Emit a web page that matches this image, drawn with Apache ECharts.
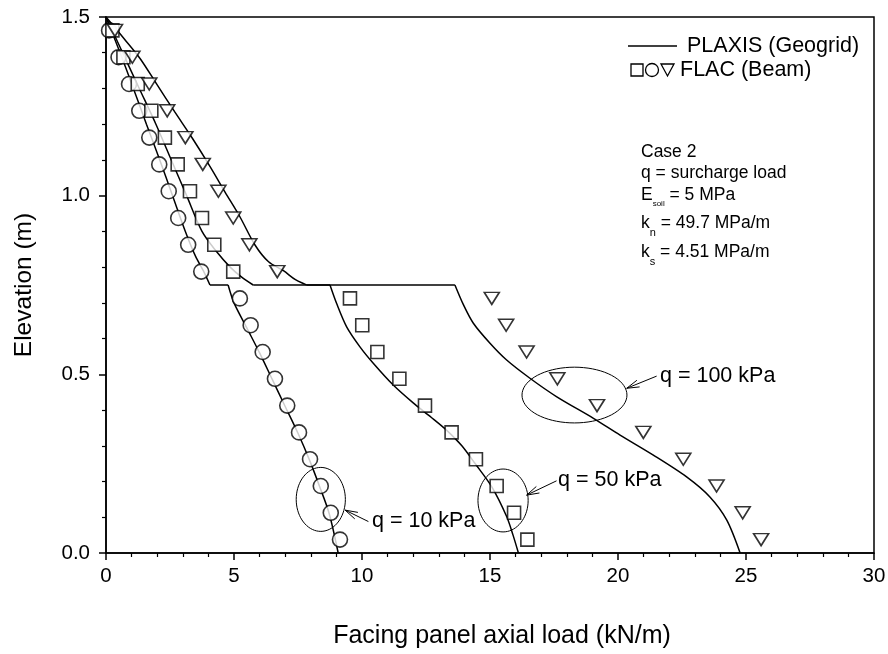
<!DOCTYPE html>
<html><head><meta charset="utf-8">
<script src="https://cdn.jsdelivr.net/npm/echarts@6/dist/echarts.min.js"></script>
<style>html,body{margin:0;padding:0;background:#fff}#c{width:888px;height:654px}</style>
</head><body><div id="c"></div>
<script>
const FONT = '"Liberation Sans", Arial, Helvetica, sans-serif';

// ---- axes ----
const xMin = 0, xMax = 30, xStep = 5;
const yMin = 0, yMax = 1.5, yStep = 0.5;

// ---- FLAC (Beam) markers ----
const flacElev = [1.4625, 1.3875, 1.3125, 1.2375, 1.1625, 1.0875, 1.0125, 0.9375, 0.8625, 0.7875,
                  0.7125, 0.6375, 0.5625, 0.4875, 0.4125, 0.3375, 0.2625, 0.1875, 0.1125, 0.0375];
const flacQ10  = [0.12, 0.49, 0.90, 1.30, 1.69, 2.08, 2.45, 2.82, 3.21, 3.72,
                  5.23, 5.65, 6.12, 6.60, 7.08, 7.54, 7.97, 8.39, 8.78, 9.14];
const flacQ50  = [0.25, 0.68, 1.24, 1.77, 2.30, 2.80, 3.28, 3.75, 4.23, 4.97,
                  9.53, 10.01, 10.60, 11.46, 12.46, 13.50, 14.45, 15.26, 15.94, 16.46];
const flacQ100 = [0.35, 1.03, 1.69, 2.39, 3.10, 3.78, 4.39, 4.97, 5.60, 6.69,
                  15.07, 15.63, 16.43, 17.63, 19.18, 20.99, 22.55, 23.85, 24.87, 25.59];

// ---- PLAXIS (Geogrid) lines: upper part (above the step) and lower part ----
const plaxis10UpperX = [0, 0.55, 1.07, 1.58, 2.1, 2.6, 3.1, 3.5, 3.8, 4.06];
const plaxis10UpperY = [1.5, 1.4, 1.3, 1.2, 1.1, 1.0, 0.9, 0.83, 0.79, 0.75];
const plaxis10LowerX = [4.77, 5.0, 5.5, 6.0, 6.5, 7.0, 7.5, 7.95, 8.35, 8.72, 9.07];
const plaxis10LowerY = [0.75, 0.70, 0.63, 0.56, 0.485, 0.41, 0.335, 0.26, 0.185, 0.11, 0.0];

const plaxis50UpperX = [0, 0.65, 1.3, 1.95, 2.55, 3.15, 3.75, 4.3, 4.85, 5.3, 5.75];
const plaxis50UpperY = [1.5, 1.4, 1.3, 1.2, 1.1, 1.0, 0.9, 0.845, 0.8, 0.772, 0.75];
const plaxis50LowerX = [8.75, 9.01, 9.4, 9.92, 10.44, 11.22, 12.0, 12.7, 13.3, 13.9, 14.41, 15.07, 15.65, 15.9, 16.11];
const plaxis50LowerY = [0.75, 0.698, 0.633, 0.577, 0.531, 0.47, 0.42, 0.38, 0.344, 0.30, 0.251, 0.185, 0.102, 0.05, 0];

const plaxis100UpperX = [0, 0.7, 1.33, 2.0, 2.68, 3.38, 4.06, 4.65, 5.23, 5.82, 6.35, 6.93, 7.4, 7.84];
const plaxis100UpperY = [1.5, 1.44, 1.384, 1.31, 1.235, 1.16, 1.082, 1.01, 0.941, 0.862, 0.815, 0.79, 0.765, 0.75];
const plaxis100LowerX = [13.63, 13.96, 14.35, 15.0, 15.65, 16.56, 17.61, 19.04, 20.08, 21.38, 22.68, 23.59, 24.25, 24.77];
const plaxis100LowerY = [0.75, 0.695, 0.643, 0.587, 0.54, 0.489, 0.437, 0.377, 0.33, 0.274, 0.213, 0.157, 0.092, 0];

// ---- annotations (data units) ----
const annLabels   = ['q = 10 kPa', 'q = 50 kPa', 'q = 100 kPa'];
const ellipseCX   = [8.39, 15.51, 18.30];
const ellipseCY   = [0.150, 0.147, 0.442];
const ellipseRX   = [0.96, 0.98, 2.05];
const ellipseRY   = [0.0895, 0.088, 0.078];
const arrowTipX   = [9.34, 16.43, 20.34];
const arrowTipY   = [0.120, 0.162, 0.461];
const arrowTailX  = [10.25, 17.60, 21.51];
const arrowTailY  = [0.088, 0.202, 0.495];
const labelX      = [10.39, 17.66, 21.64];
const labelY      = [0.089, 0.204, 0.495];

const zip = (a, b) => a.map((v, i) => [v, b[i]]);
const last = a => a[a.length - 1];

const chart = echarts.init(document.getElementById('c'), null, {renderer: 'canvas'});

const markerStyle = {color: '#fff', borderColor: '#000', borderWidth: 1.6};
const lineStyle = {color: '#000', width: 1.5};

function renderAnn(params, api) {
  const i = api.value(2);
  const c = api.coord([ellipseCX[i], ellipseCY[i]]);
  const r = api.size([ellipseRX[i], ellipseRY[i]]);
  const pts = [];
  for (let k = 0; k < 72; k++) {
    const t = k / 72 * Math.PI * 2;
    pts.push([c[0] + r[0] * Math.cos(t), c[1] + r[1] * Math.sin(t)]);
  }
  const tip = api.coord([arrowTipX[i], arrowTipY[i]]);
  const tail = api.coord([arrowTailX[i], arrowTailY[i]]);
  const a = Math.atan2(tail[1] - tip[1], tail[0] - tip[0]);
  const L = 13, sp = 0.28;
  const h1 = [tip[0] + L * Math.cos(a + sp), tip[1] + L * Math.sin(a + sp)];
  const h2 = [tip[0] + L * Math.cos(a - sp), tip[1] + L * Math.sin(a - sp)];
  const lp = api.coord([labelX[i], labelY[i]]);
  return {
    type: 'group',
    children: [
      {type: 'polygon', shape: {points: pts}, style: {fill: null, stroke: '#000', lineWidth: 1}},
      {type: 'polyline', shape: {points: [tail, tip]}, style: {fill: null, stroke: '#000', lineWidth: 1}},
      {type: 'polyline', shape: {points: [h1, tip, h2]}, style: {fill: null, stroke: '#000', lineWidth: 1}},
      {type: 'text', x: lp[0], y: lp[1], style: {text: annLabels[i], fill: '#000', font: '21.5px ' + FONT, align: 'left', verticalAlign: 'middle'}}
    ]
  };
}

const caseRich = {
  m: {fontSize: 17.5, fontFamily: FONT, color: '#000'},
  s: {fontSize: 8, fontFamily: FONT, color: '#000', verticalAlign: 'bottom', padding: [0, 0, -4, 0]},
  t: {fontSize: 11, fontFamily: FONT, color: '#000', verticalAlign: 'bottom', padding: [0, 0, -6, 0]}
};

function plaxisSeries(ux, uy, lx, ly) {
  return [
    {type: 'line', data: zip(ux, uy), showSymbol: false, smooth: 0.3, lineStyle, z: 2},
    {type: 'line', data: [[last(ux), last(uy)], [lx[0], ly[0]]], showSymbol: false, lineStyle, z: 2},
    {type: 'line', data: zip(lx, ly), showSymbol: false, smooth: 0.3, lineStyle, z: 2}
  ];
}

const option = {
  animation: false,
  backgroundColor: '#fff',
  grid: {left: 106, right: 14, top: 17, bottom: 101, outerBoundsMode: 'none', containLabel: false,
         show: true, borderColor: '#000', borderWidth: 1.5, backgroundColor: 'transparent'},
  xAxis: {
    type: 'value', min: xMin, max: xMax, interval: xStep,
    name: 'Facing panel axial load (kN/m)', nameLocation: 'middle', nameGap: 71,
    nameTextStyle: {fontSize: 25, fontFamily: FONT, color: '#000', padding: [0, 0, 0, 24]},
    axisLine: {show: true, lineStyle: {color: '#000', width: 1.5}},
    axisTick: {show: true, inside: false, length: 7, lineStyle: {color: '#000', width: 1.5}},
    minorTick: {show: true, splitNumber: 5, length: 4, lineStyle: {color: '#000', width: 1.2}},
    axisLabel: {fontSize: 20.5, fontFamily: FONT, color: '#000', margin: 13},
    splitLine: {show: false}
  },
  yAxis: {
    type: 'value', min: yMin, max: yMax, interval: yStep,
    name: 'Elevation (m)', nameLocation: 'middle', nameGap: 69, nameRotate: 90,
    nameTextStyle: {fontSize: 24.5, fontFamily: FONT, color: '#000'},
    axisLine: {show: true, lineStyle: {color: '#000', width: 1.5}},
    axisTick: {show: true, inside: false, length: 7, lineStyle: {color: '#000', width: 1.5}},
    minorTick: {show: true, splitNumber: 5, length: 4, lineStyle: {color: '#000', width: 1.2}},
    axisLabel: {fontSize: 20.5, fontFamily: FONT, color: '#000', margin: 16, formatter: v => v.toFixed(1)},
    splitLine: {show: false}
  },
  series: [
    ...plaxisSeries(plaxis10UpperX, plaxis10UpperY, plaxis10LowerX, plaxis10LowerY),
    ...plaxisSeries(plaxis50UpperX, plaxis50UpperY, plaxis50LowerX, plaxis50LowerY),
    ...plaxisSeries(plaxis100UpperX, plaxis100UpperY, plaxis100LowerX, plaxis100LowerY),
    {type: 'scatter', data: zip(flacQ10, flacElev), symbol: 'circle', symbolSize: 15, itemStyle: markerStyle, z: 3},
    {type: 'scatter', data: zip(flacQ50, flacElev), symbol: 'rect', symbolSize: 13, itemStyle: markerStyle, z: 3},
    {type: 'scatter', data: zip(flacQ100, flacElev), symbol: 'triangle', symbolSize: [15, 12], symbolRotate: 180, itemStyle: markerStyle, z: 3},
    {type: 'custom', renderItem: renderAnn, clip: false, z: 4,
     data: annLabels.map((_, i) => [ellipseCX[i], ellipseCY[i], i]), encode: {x: 0, y: 1}}
  ],
  graphic: [
    {type: 'line', shape: {x1: 628, y1: 46, x2: 677, y2: 46}, style: {stroke: '#000', lineWidth: 1.5}},
    {type: 'text', x: 687, y: 46, style: {text: 'PLAXIS (Geogrid)', font: '21.5px ' + FONT, fill: '#000', verticalAlign: 'middle'}},
    {type: 'rect', shape: {x: 631, y: 64, width: 12, height: 12}, style: {fill: '#fff', stroke: '#000', lineWidth: 1.3}},
    {type: 'circle', shape: {cx: 652, cy: 70, r: 6.5}, style: {fill: '#fff', stroke: '#000', lineWidth: 1.3}},
    {type: 'polygon', shape: {points: [[661, 64], [674, 64], [667.5, 76]]}, style: {fill: '#fff', stroke: '#000', lineWidth: 1.3}},
    {type: 'text', x: 680, y: 70, style: {text: 'FLAC (Beam)', font: '21.5px ' + FONT, fill: '#000', verticalAlign: 'middle'}},
    {type: 'text', x: 641, y: 152, style: {text: 'Case 2', font: '17.5px ' + FONT, fill: '#000', verticalAlign: 'middle'}},
    {type: 'text', x: 641, y: 173, style: {text: 'q = surcharge load', font: '17.5px ' + FONT, fill: '#000', verticalAlign: 'middle'}},
    {type: 'text', x: 641, y: 195, style: {text: '{m|E}{s|soil}{m| = 5 MPa}', rich: caseRich, verticalAlign: 'middle'}},
    {type: 'text', x: 641, y: 223, style: {text: '{m|k}{t|n}{m| = 49.7 MPa/m}', rich: caseRich, verticalAlign: 'middle'}},
    {type: 'text', x: 641, y: 252, style: {text: '{m|k}{t|s}{m| = 4.51 MPa/m}', rich: caseRich, verticalAlign: 'middle'}}
  ]
};
chart.setOption(option);
</script>
</body></html>
